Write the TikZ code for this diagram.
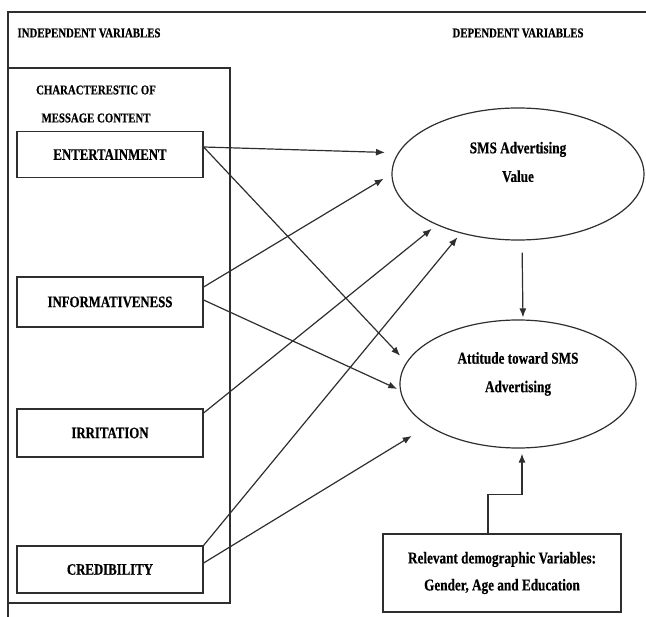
\documentclass[tikz,border=0pt]{standalone}
\usepackage{fontspec}
\setmainfont{Liberation Serif}
\newfontfamily\narrowserif[FakeStretch=0.8, FakeBold=0.4]{Liberation Serif Bold}
\usetikzlibrary{arrows.meta,positioning,shapes.geometric}
\definecolor{Ink}{HTML}{2E2E2E}
\tikzset{
  heading/.style={inner sep=0pt, align=center, font=\narrowserif\fontsize{13.5}{28}\selectfont},
  outline/.style={draw=Ink, line width=1.2pt, inner sep=0pt},
  varbox/.style={outline, minimum width=186pt, minimum height=46pt, font=\narrowserif\fontsize{16}{18}\selectfont},
  oval/.style={ellipse, draw=Ink, line width=1.2pt, inner sep=0pt},
  ovaltext/.style={align=center, inner sep=0pt, font=\narrowserif\fontsize{16.5}{28.5}\selectfont},
  arrow/.style={-{Latex[length=9pt,width=7pt]}, line width=1.2pt, draw=Ink}
}
\begin{document}
\begin{tikzpicture}[x=1pt, y=-1pt]
\useasboundingbox (0,0) rectangle (646,617);
% outer frame
\draw[outline] (8,617) -- (8,12) -- (646,12);
\node[heading] (indep) at (89,33) {INDEPENDENT VARIABLES};
\node[heading] (dep) at (518,33) {DEPENDENT VARIABLES};
% independent variables
\node[outline, minimum width=222pt, minimum height=535pt] (content) at (119,335.5) {};
\node[heading] (contenthead) at (96,104) {CHARACTERESTIC OF\\MESSAGE CONTENT};
\node[varbox] (ent) at (110,154.5) {ENTERTAINMENT};
\node[varbox, minimum height=50pt] (inf) at (110,302) {INFORMATIVENESS};
\node[varbox, minimum height=48pt] (irr) at (110,433) {IRRITATION};
\node[varbox, minimum height=47pt] (cred) at (110,569.5) {CREDIBILITY};
% dependent variables
\node[oval, minimum width=252pt, minimum height=132pt] (smsv) at (518,174) {};
\node[ovaltext] (smsvtext) at (518,162) {SMS Advertising\\Value};
\node[oval, minimum width=236pt, minimum height=128pt] (att) at (518,384) {};
\node[ovaltext] (atttext) at (518,374) {Attitude toward SMS\\Advertising};
\node[outline, minimum width=238pt, minimum height=78pt, align=center, font=\narrowserif\fontsize{16.5}{27}\selectfont] (demo) at (502,573) {Relevant demographic Variables:\\Gender, Age and Education};
% paths
\draw[arrow, shorten >=13pt] ([yshift=7.5pt]ent.east) -- (smsv.170);
\draw[arrow, shorten >=9pt] ([yshift=7.5pt]ent.east) -- (att.169);
\draw[arrow, shorten >=9pt] ([yshift=15pt]inf.east) -- (smsv.180);
\draw[arrow, shorten >=3pt] ([yshift=2pt]inf.east) -- (att.183);
\draw[arrow, shorten >=6pt] ([yshift=20pt]irr.east) -- (smsv.212);
\draw[arrow, shorten >=5pt] (cred.north east) -- (smsv.226);
\draw[arrow, shorten >=19pt] ([yshift=6.5pt]cred.east) -- (att.205);
\draw[arrow, shorten <=12pt, shorten >=2pt] ([xshift=4pt]smsv.south) -- ([xshift=5pt]att.north);
\draw[arrow, shorten >=5pt] ([xshift=-14pt]demo.north) -- ++(0,-39) -| ([xshift=4pt]att.south);
\end{tikzpicture}
\end{document}
